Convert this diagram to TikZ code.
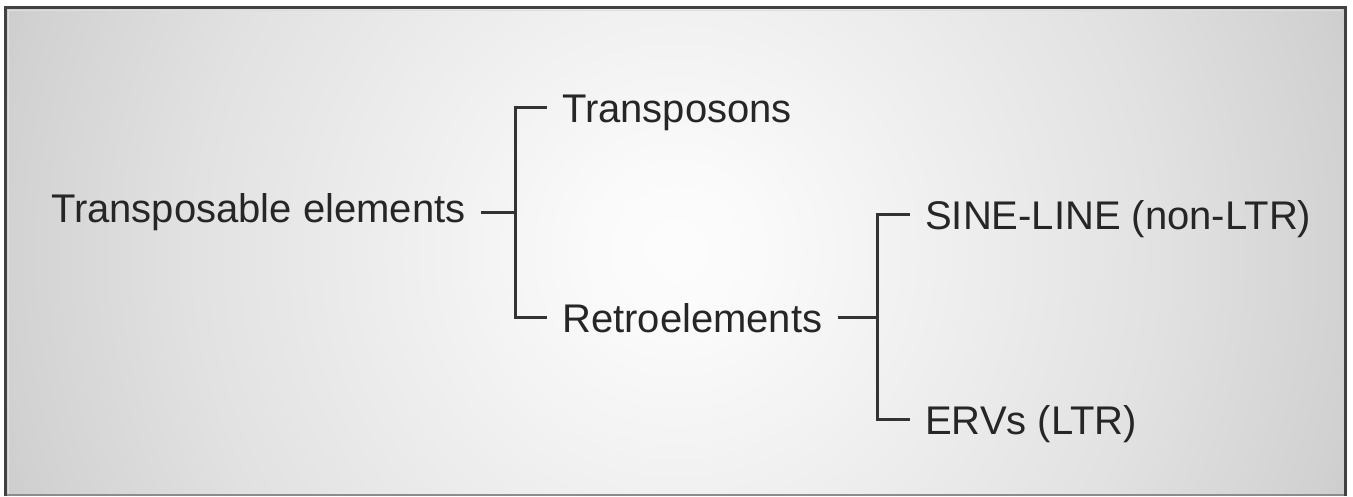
\documentclass[tikz,border=0pt]{standalone}
\usepackage{fontspec}
\setmainfont{Liberation Sans}
\usetikzlibrary{calc}

% greys of the soft glow behind the tree
\definecolor{glowA}{gray}{0.99}
\definecolor{glowB}{gray}{0.98}
\definecolor{glowC}{gray}{0.94}
\definecolor{glowD}{gray}{0.885}
\definecolor{glowE}{gray}{0.82}
\definecolor{glowF}{gray}{0.79}
\definecolor{inkgray}{gray}{0.15}
\definecolor{linegray}{gray}{0.2}
\definecolor{framedark}{gray}{0.26}
\definecolor{framelow}{gray}{0.55}
\definecolor{bevel}{gray}{0.87}

\pgfdeclareradialshading{paperglow}{\pgfpoint{0bp}{0bp}}{%
  color(0bp)=(glowA); color(3bp)=(glowB); color(9bp)=(glowC);
  color(17bp)=(glowD); color(24bp)=(glowE); color(26bp)=(glowF);
  color(50bp)=(glowF)}

\begin{document}
\begin{tikzpicture}[x=1pt,y=-1pt,
  termbox/.style={anchor=base west, inner xsep=15pt, inner ysep=0pt,
    text height=30pt, text depth=0pt, text=inkgray,
    font=\fontsize{40}{48}\selectfont},
  conn/.style={draw=linegray, line width=3pt}]

\useasboundingbox (0,0) rectangle (1353,496);
\fill[white] (0,0) rectangle (1353,496);

% shaded panel
\begin{scope}
  \clip (6,8) rectangle (1345,495);
  \shade[shading=paperglow] (-34,-459) rectangle (1386,961);
\end{scope}

% panel frame
\draw[bevel, line width=1.5pt] (8.5,494) -- (8.5,10.5) -- (1342,10.5);
\draw[framedark, line width=3pt] (5.5,496) -- (5.5,7.5) -- (1345,7.5) -- (1345,496);
\draw[framelow, line width=2pt] (7,494.5) -- (1343.5,494.5);

% terms
\node[termbox] (te) at (36,222)  {Transposable elements};
\node[termbox] (tp) at (547,122) {Transposons};
\node[termbox] (re) at (547,332) {Retroelements};
\node[termbox] (sl) at (910,229) {SINE-LINE (non-LTR)};
\node[termbox] (er) at (910,434) {ERVs (LTR)};

% brackets
\coordinate (j1) at (515,212);
\coordinate (j2) at (877,317);
\draw[conn] (te.east |- j1) -- (j1);
\draw[conn] (tp.west) -| (j1) |- (re.west);
\draw[conn] (re.east) -- (re.east -| j2);
\draw[conn] (sl.west) -| (j2) |- (er.west);
\end{tikzpicture}
\end{document}
